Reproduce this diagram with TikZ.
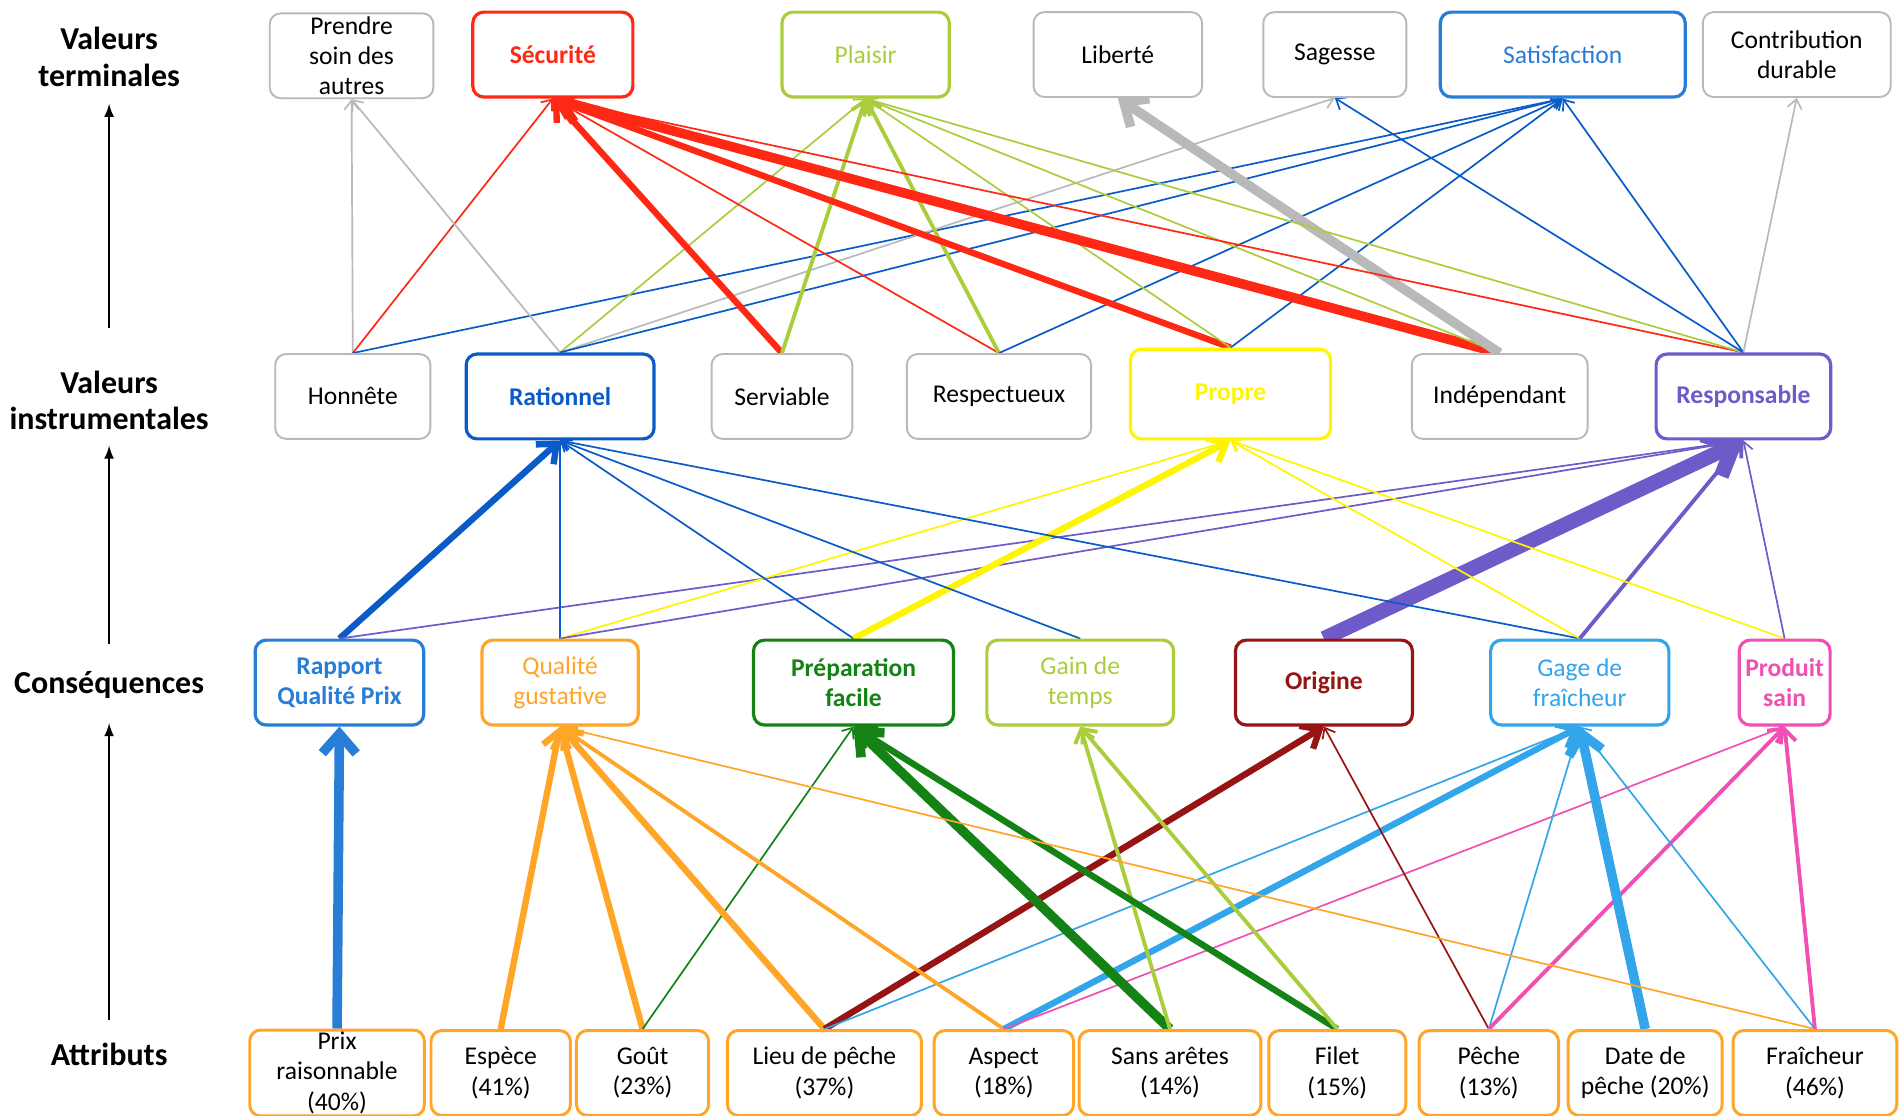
\documentclass[tikz,border=0pt]{standalone}
\usepackage{fontspec}
\setmainfont{Carlito}
\usepackage{tikz}
\usetikzlibrary{positioning}
\usetikzlibrary{arrows.meta}
\pgfdeclarelayer{background}
\pgfdeclarelayer{foreground}
\pgfsetlayers{background,main,foreground}

\definecolor{rouge}{RGB}{255,40,20}
\definecolor{vertpomme}{RGB}{170,205,60}
\definecolor{bleu}{RGB}{40,125,215}
\definecolor{bleufonce}{RGB}{10,90,200}
\definecolor{bleuclair}{RGB}{50,165,235}
\definecolor{jaune}{RGB}{255,245,0}
\definecolor{violet}{RGB}{110,90,200}
\definecolor{orange}{RGB}{255,165,40}
\definecolor{vert}{RGB}{20,130,20}
\definecolor{bordeaux}{RGB}{150,20,20}
\definecolor{rose}{RGB}{240,80,180}
\definecolor{gris}{RGB}{185,185,185}

\begin{document}
\begin{tikzpicture}[x=0.2mm,y=-0.2mm,
						boite/.style={draw=#1, rectangle, rounded corners=1.8mm, line width=1.5pt, fill=white, align=center, minimum height=14mm, inner sep=1pt, font=\fontsize{12}{14.2}\selectfont},
						grise/.style={boite=gris, line width=0.9pt},
						attribut/.style={boite=orange, line width=1.4pt},
						gras/.style={font=\bfseries\fontsize{12}{14.2}\selectfont},
						etiquette/.style={align=center, inner sep=0pt, font=\bfseries\fontsize{15}{17}\selectfont},
						f1/.style={draw=#1, line width=0.8pt, -{Straight Barb[length=1.5mm,width=2.4mm]}},
						f2/.style={draw=#1, line width=1.8pt, -{Straight Barb[length=2mm,width=3.2mm]}},
						f3/.style={draw=#1, line width=3pt, -{Straight Barb[length=2.6mm,width=4.4mm]}},
						f4/.style={draw=#1, line width=4.5pt, -{Straight Barb[length=3.2mm,width=5.6mm]}},
						f5/.style={draw=#1, line width=7pt, -{Straight Barb[length=4mm,width=7.5mm]}},
						]
						\useasboundingbox (0,0) rectangle (1568,920);
						%Labels
						\node[etiquette]      (lterm) 	at 	(90,47)           {Valeurs\\terminales};
						\node[etiquette]      (linstr) 	at 	(90,330)          {Valeurs\\instrumentales};
						\node[etiquette]      (lcons) 	at 	(90,565)          {Conséquences};
						\node[etiquette]      (lattr) 	at 	(90,870)          {Attributs};
						\draw[line width=1.1pt,-latex,shorten <=7mm,shorten >=2.8mm] (linstr) -- (lterm);
						\draw[line width=1.1pt,-latex,shorten <=4.4mm,shorten >=2.6mm] (lcons) -- (linstr);
						\draw[line width=1.1pt,-latex,shorten <=3.8mm,shorten >=4mm] (lattr) -- (lcons);

						%Valeurs terminales
						\node[grise, minimum width=27mm]      (prendre) 	at 	(290,46)           {Prendre\\soin des\\autres};
						\node[boite=rouge, text=rouge, minimum width=26.4mm, gras]      (securite) 	at 	(456,45)           {Sécurité};
						\node[boite=vertpomme, text=vertpomme, minimum width=27.6mm]      (plaisir) 	at 	(714,45)           {Plaisir};
						\node[grise, minimum width=27.8mm]      (liberte) 	at 	(922,45)           {Liberté};
						\node[grise, minimum width=23.6mm]      (sagesse) 	at 	(1101,45)           {Sagesse};
						\node[boite=bleu, text=bleu, minimum width=40.4mm]      (satisf) 	at 	(1289,45)           {Satisfaction};
						\node[grise, minimum width=31mm]      (contrib) 	at 	(1482,45)           {Contribution\\durable};

						%Valeurs instrumentales
						\node[grise, minimum width=25.6mm]      (honnete) 	at 	(291,327)           {Honnête};
						\node[boite=bleufonce, text=bleufonce, minimum width=31mm, gras]      (rationnel) 	at 	(462,327)           {Rationnel};
						\node[grise, minimum width=23.2mm]      (serviable) 	at 	(645,327)           {Serviable};
						\node[grise, minimum width=30.4mm]      (respect) 	at 	(824,327)           {Respectueux};
						\node[boite=jaune, text=jaune, minimum width=33mm, minimum height=14.8mm, gras]      (propre) 	at 	(1015,325)           {Propre};
						\node[grise, minimum width=29mm]      (indep) 	at 	(1237,327)           {Indépendant};
						\node[boite=violet, text=violet, minimum width=28.8mm, gras]      (respons) 	at 	(1438,327)           {Responsable};

						%Conséquences
						\node[boite=bleu, text=bleu, minimum width=27.8mm, gras]      (rqp) 	at 	(280,563)           {Rapport\\Qualité Prix};
						\node[boite=orange, text=orange, minimum width=25.8mm]      (qg) 	at 	(462,563)           {Qualité\\gustative};
						\node[boite=vert, text=vert, minimum width=33mm, gras]      (prep) 	at 	(704,563)           {Préparation\\facile};
						\node[boite=vertpomme, text=vertpomme, minimum width=30.8mm]      (gain) 	at 	(891,563)           {Gain de\\temps};
						\node[boite=bordeaux, text=bordeaux, minimum width=29.2mm, gras]      (origine) 	at 	(1092,563)           {Origine};
						\node[boite=bleuclair, text=bleuclair, minimum width=29.4mm]      (gage) 	at 	(1303,563)           {Gage de\\fraîcheur};
						\node[boite=rose, text=rose, minimum width=15mm, gras]      (sain) 	at 	(1472,563)           {Produit\\sain};

						%Attributs
						\node[attribut, minimum width=28.8mm]      (prix) 	at 	(278,885)           {Prix\\raisonnable\\(40\%)};
						\node[attribut, minimum width=23mm]      (espece) 	at 	(413,885)           {Espèce\\(41\%)};
						\node[attribut, minimum width=21.8mm]      (gout) 	at 	(530,885)           {Goût\\(23\%)};
						\node[attribut, minimum width=32mm]      (lieu) 	at 	(680,885)           {Lieu de pêche\\(37\%)};
						\node[attribut, minimum width=23mm]      (aspect) 	at 	(828,885)           {Aspect\\(18\%)};
						\node[attribut, minimum width=30mm]      (sansar) 	at 	(965,885)           {Sans arêtes\\(14\%)};
						\node[attribut, minimum width=22.6mm]      (filet) 	at 	(1103,885)           {Filet\\(15\%)};
						\node[attribut, minimum width=23mm]      (peche) 	at 	(1228,885)           {Pêche\\(13\%)};
						\node[attribut, minimum width=25.4mm]      (datep) 	at 	(1357,885)           {Date de\\pêche (20\%)};
						\node[attribut, minimum width=27mm]      (fraich) 	at 	(1497,885)           {Fraîcheur\\(46\%)};

						\begin{pgfonlayer}{background}
						%Lines attributs -> consequences
						\draw[f4=bleu] (prix.north) -- (rqp.south);
						\draw[f3=orange] (espece.north) -- (qg.south);
						\draw[f3=orange] (gout.north) -- (qg.south);
						\draw[f1=vert] (gout.north) -- (prep.south);
						\draw[f3=orange] (lieu.north) -- (qg.south);
						\draw[f3=bordeaux] (lieu.north) -- (origine.south);
						\draw[f1=bleuclair] (lieu.north) -- (gage.south);
						\draw[f2=orange] (aspect.north) -- (qg.south);
						\draw[f3=bleuclair] (aspect.north) -- (gage.south);
						\draw[f1=rose] (aspect.north) -- (sain.south);
						\draw[f4=vert] (sansar.north) -- (prep.south);
						\draw[f2=vertpomme] (sansar.north) -- (gain.south);
						\draw[f3=vert] (filet.north) -- (prep.south);
						\draw[f2=vertpomme] (filet.north) -- (gain.south);
						\draw[f1=bordeaux] (peche.north) -- (origine.south);
						\draw[f1=bleuclair] (peche.north) -- (gage.south);
						\draw[f2=rose] (peche.north) -- (sain.south);
						\draw[f4=bleuclair] (datep.north) -- (gage.south);
						\draw[f1=orange] (fraich.north) -- (qg.south);
						\draw[f1=bleuclair] (fraich.north) -- (gage.south);
						\draw[f2=rose] (fraich.north) -- (sain.south);

						%Lines consequences -> valeurs instrumentales
						\draw[f3=bleufonce] (rqp.north) -- (rationnel.south);
						\draw[f1=violet] (rqp.north) -- (respons.south);
						\draw[f1=bleufonce] (qg.north) -- (rationnel.south);
						\draw[f1=jaune] (qg.north) -- (propre.south);
						\draw[f1=violet] (qg.north) -- (respons.south);
						\draw[f1=bleufonce] (prep.north) -- (rationnel.south);
						\draw[f3=jaune] (prep.north) -- (propre.south);
						\draw[f1=bleufonce] (gain.north) -- (rationnel.south);
						\draw[f5=violet] (origine.north) -- (respons.south);
						\draw[f1=bleufonce] (gage.north) -- (rationnel.south);
						\draw[f1=jaune] (gage.north) -- (propre.south);
						\draw[f2=violet] (gage.north) -- (respons.south);
						\draw[f1=jaune] (sain.north) -- (propre.south);
						\draw[f1=violet] (sain.north) -- (respons.south);

						%Lines valeurs instrumentales -> valeurs terminales
						\draw[f1=gris] (honnete.north) -- (prendre.south);
						\draw[f1=rouge] (honnete.north) -- (securite.south);
						\draw[f1=bleufonce] (honnete.north) -- (satisf.south);
						\draw[f1=gris] (rationnel.north) -- (prendre.south);
						\draw[f1=vertpomme] (rationnel.north) -- (plaisir.south);
						\draw[f1=gris] (rationnel.north) -- (sagesse.south);
						\draw[f1=bleufonce] (rationnel.north) -- (satisf.south);
						\draw[f3=rouge] (serviable.north) -- (securite.south);
						\draw[f2=vertpomme] (serviable.north) -- (plaisir.south);
						\draw[f1=rouge] (respect.north) -- (securite.south);
						\draw[f2=vertpomme] (respect.north) -- (plaisir.south);
						\draw[f1=bleufonce] (respect.north) -- (satisf.south);
						\draw[f3=rouge] (propre.north) -- (securite.south);
						\draw[f1=vertpomme] (propre.north) -- (plaisir.south);
						\draw[f1=bleufonce] (propre.north) -- (satisf.south);
						\draw[f4=rouge] (indep.north) -- (securite.south);
						\draw[f1=vertpomme] (indep.north) -- (plaisir.south);
						\draw[f4=gris] (indep.north) -- (liberte.south);
						\draw[f1=rouge] (respons.north) -- (securite.south);
						\draw[f1=vertpomme] (respons.north) -- (plaisir.south);
						\draw[f1=bleufonce] (respons.north) -- (sagesse.south);
						\draw[f1=bleufonce] (respons.north) -- (satisf.south);
						\draw[f1=gris] (respons.north) -- (contrib.south);
						\end{pgfonlayer}
					\end{tikzpicture}
\end{document}
